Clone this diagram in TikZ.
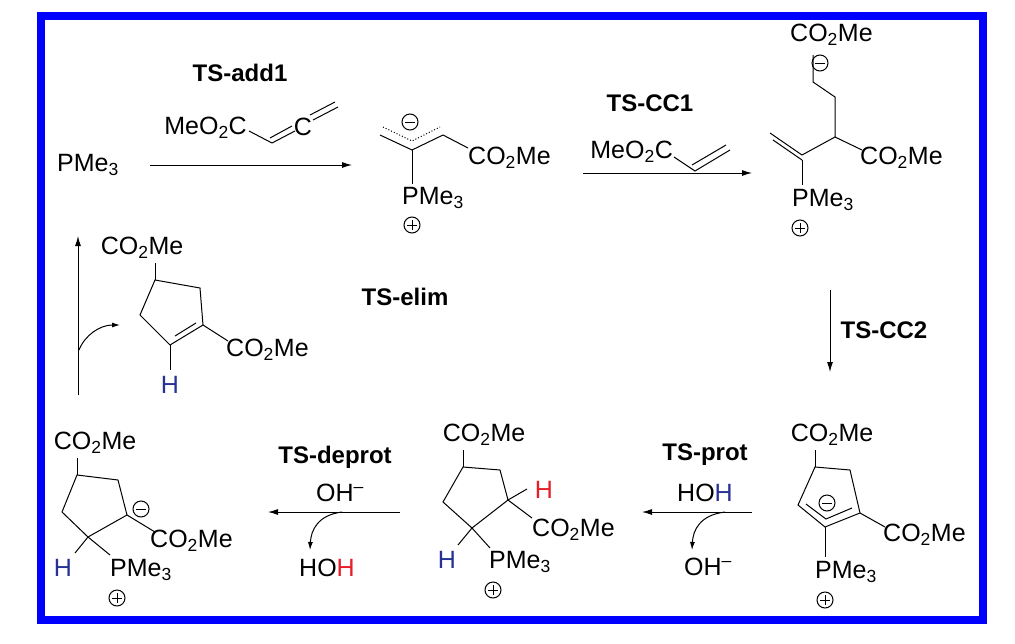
\documentclass[tikz,border=0pt]{standalone}
\usepackage{fontspec}
\setmainfont{Liberation Sans}
\usetikzlibrary{arrows.meta}
\definecolor{hblue}{RGB}{40,50,150}
\definecolor{hred}{RGB}{230,30,40}
\begin{document}
\begin{tikzpicture}[x=1pt,y=-1pt,
 t/.style={font=\fontsize{25}{28}\selectfont,inner sep=0pt},
 lb/.style={font=\bfseries\fontsize{24}{28}\selectfont,inner sep=0pt},
 bd/.style={line width=1pt},
 rx/.style={line width=1pt,-{Latex[length=10pt,width=6pt]}},
 cu/.style={line width=1pt,-{Latex[length=8pt,width=5pt]}}]
\useasboundingbox (0,0) rectangle (1015,643);
\fill[white] (0,0) rectangle (1015,643);
\draw[blue,line width=8pt] (41,16) rectangle (983,620);
\newcommand{\mnc}[2]{\draw[bd] (#1,#2) circle (8); \draw[bd] (#1-5,#2)--(#1+5,#2);}
\newcommand{\plc}[2]{\draw[bd] (#1,#2) circle (8); \draw[bd] (#1-5,#2)--(#1+5,#2) (#1,#2-5)--(#1,#2+5);}
\newcommand{\cme}{CO\textsubscript{2}Me}
\newcommand{\pmg}{PMe\textsubscript{3}}
% reactant
\node[t] (pme) at (88,165) {\pmg};
\coordinate (a1s) at (150,165); \coordinate (a1e) at (352,165);
\draw[rx] (a1s)--(a1e);
\node[lb] (l1) at (240,73) {TS-add1};
\node[t,anchor=east] (r1) at (247,128) {MeO\textsubscript{2}C};
\draw[bd] (249,131)--(272,143);
\draw[bd] (272,143)--(295,131) (270,138)--(292,126);
\node[t] (r1c) at (303,127) {C};
\draw[bd] (313,120)--(338,107) (310,115)--(335,102);
% intermediate 1
\draw[bd] (380,135)--(412,150)--(443,135);
\draw[bd,dotted] (383,127)--(412,141)--(440,127);
\mnc{410}{122}
\draw[bd] (443,135)--(468,148);
\node[t,anchor=west] (cm1) at (468,158) {\cme};
\draw[bd] (412,150)--(412,184);
\node[t,anchor=west] (p1) at (402,198) {\pmg};
\plc{412}{225}
% arrow 2
\coordinate (a2s) at (583,173); \coordinate (a2e) at (752,173);
\draw[rx] (a2s)--(a2e);
\node[lb] (l2) at (650,103) {TS-CC1};
\node[t,anchor=east] (r2) at (673,152) {MeO\textsubscript{2}C};
\draw[bd] (674,157)--(695,171)--(730,150) (692,165)--(726,145);
% intermediate 2
\draw[bd] (770,133)--(802,155) (773,140)--(802,160);
\draw[bd] (802,155)--(835,137)--(862,150);
\node[t,anchor=west] (cm2) at (860,158) {\cme};
\draw[bd] (835,137)--(835,97)--(813,82)--(813,55);
\mnc{820}{63}
\node[t,anchor=west] (cm2b) at (790,35) {\cme};
\draw[bd] (802,160)--(802,185);
\node[t,anchor=west] (p2) at (792,200) {\pmg};
\plc{800}{228}
% TS-CC2
\coordinate (a3s) at (830,290); \coordinate (a3e) at (830,372);
\draw[rx] (a3s)--(a3e);
\node[lb] (l3) at (884,330) {TS-CC2};
% intermediate 3
\node[t] (cm3) at (832,435) {\cme};
\draw[bd] (815,450)--(815,467);
\draw[bd] (815,467)--(850,470)--(860,513)--(825,527)--(798,505)--cycle;
\draw[bd] (806,504)--(826,519)--(852,508);
\mnc{827}{503}
\draw[bd] (860,513)--(885,527);
\node[t,anchor=west] (cm3b) at (883,535) {\cme};
\draw[bd] (825,527)--(825,557);
\node[t,anchor=west] (p3) at (815,572) {\pmg};
\plc{825}{600}
% TS-prot
\coordinate (a4s) at (752,512); \coordinate (a4e) at (642,512);
\draw[rx] (a4s)--(a4e);
\node[lb] (l4) at (705,455) {TS-prot};
\node[t] (hoh1) at (705,493) {HO\textcolor{hblue}{H}};
\draw[cu] (725,512) .. controls (700,515) and (693,530) .. (692,550);
\node[t] (oh1) at (708,567) {OH\textsuperscript{–}};
% intermediate 4
\node[t] (cm4) at (484,435) {\cme};
\draw[bd] (463,450)--(463,467);
\draw[bd] (463,467)--(500,470)--(508,500)--(472,528)--(443,502)--cycle;
\draw[bd] (508,500)--(527,489);
\node[t] (h4a) at (544,490) {\textcolor{hred}{H}};
\draw[bd] (508,500)--(532,518);
\node[t,anchor=west] (cm4b) at (532,530) {\cme};
\draw[bd] (472,528)--(458,545);
\node[t] (h4b) at (447,560) {\textcolor{hblue}{H}};
\draw[bd] (472,528)--(490,548);
\node[t,anchor=west] (p4) at (489,562) {\pmg};
\plc{493}{590}
% TS-deprot
\coordinate (a5s) at (400,512); \coordinate (a5e) at (268,512);
\draw[rx] (a5s)--(a5e);
\node[lb] (l5) at (335,457) {TS-deprot};
\node[t] (oh2) at (340,493) {OH\textsuperscript{–}};
\draw[cu] (342,512) .. controls (318,515) and (311,530) .. (310,550);
\node[t] (hoh2) at (327,568) {HO\textcolor{hred}{H}};
% intermediate 5
\node[t] (cm5) at (95,443) {\cme};
\draw[bd] (77,458)--(77,475);
\draw[bd] (77,475)--(118,480)--(127,515)--(88,537)--(62,512)--cycle;
\mnc{141}{509}
\draw[bd] (127,515)--(155,532);
\node[t,anchor=west] (cm5b) at (150,541) {\cme};
\draw[bd] (88,537)--(75,553);
\node[t] (h5) at (63,568) {\textcolor{hblue}{H}};
\draw[bd] (88,537)--(110,555);
\node[t,anchor=west] (p5) at (110,570) {\pmg};
\plc{117}{598}
% TS-elim
\coordinate (a6s) at (78,395); \coordinate (a6e) at (78,236);
\draw[rx] (a6s)--(a6e);
\draw[cu] (79,350) .. controls (85,335) and (100,325) .. (120,325);
\node[t] (cm6) at (142,248) {\cme};
\draw[bd] (155,263)--(155,280);
\draw[bd] (155,280)--(200,288)--(203,325)--(170,345)--(140,315)--cycle;
\draw[bd] (196,323)--(175,336);
\draw[bd] (170,345)--(170,370);
\node[t] (h6) at (170,385) {\textcolor{hblue}{H}};
\draw[bd] (203,325)--(228,341);
\node[t,anchor=west] (cm6b) at (226,350) {\cme};
\node[lb] (l6) at (405,297) {TS-elim};
\end{tikzpicture}
\end{document}
